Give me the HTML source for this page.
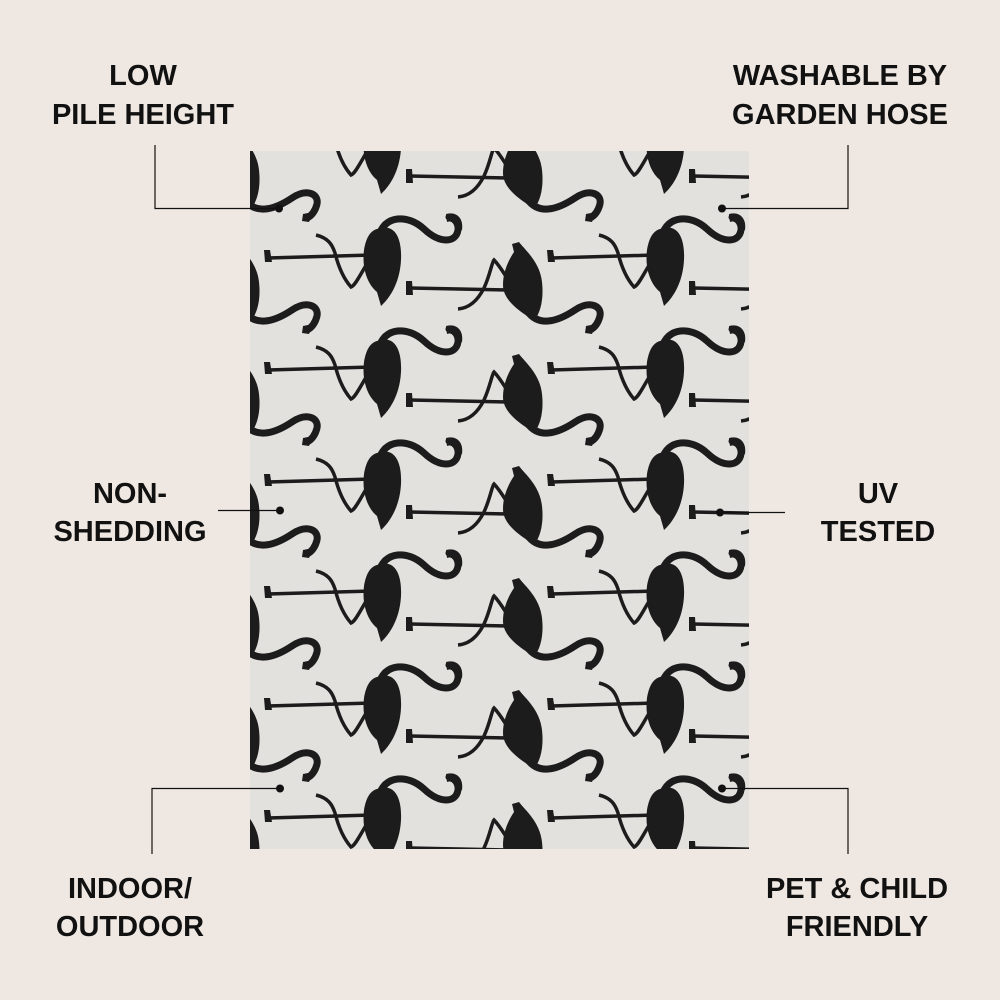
<!DOCTYPE html>
<html><head><meta charset="utf-8"><style>
html,body{margin:0;padding:0;background:#efe7e2;}
svg{display:block}
text{font-family:"Liberation Sans",Arial,sans-serif;font-weight:bold;font-size:29px;fill:#111;text-anchor:middle}
</style></head><body>
<svg width="1000" height="1000" viewBox="0 0 1000 1000" xmlns="http://www.w3.org/2000/svg">
<defs>
<clipPath id="rug"><rect x="250" y="151" width="499" height="698"/></clipPath>
<g id="A" fill="#1c1c1c" stroke="#1c1c1c">
  <path stroke="none" d="M377,229 C396,222 402,240 401,260 C400,280 392,296 381,306 L377,292 C366,283 362,266 364,250 C366,238 370,231 377,229 Z"/>
  <path fill="none" stroke-width="7" stroke-linecap="round" d="M379,236 C384,215 408,214 424,229 C440,244 456,243 458,230 C460,220 455,216 449,217"/>
  <path stroke="none" d="M446,214 C456,212 464,218 462,230 L455,232 C455,224 452,220 447,222 Z"/>
  <path fill="none" stroke-width="3.5" d="M268,258 L372,255"/>
  <path fill="none" stroke-width="3.5" d="M368,262 C360,275 355,286 351,287 C343,278 338,265 335,253 C332,244 328,238 316,235"/>
  <path stroke="none" d="M264,250 L270,250 L272,262 L265,262 Z"/>
</g>
<g id="B" fill="#1c1c1c" stroke="#1c1c1c">
  <path stroke="none" d="M519,242 C525,250 540,262 542,282 C544,300 540,312 536,318 L527,316 C515,308 503,298 503,285 C503,270 510,258 514,252 L512,244 Z"/>
  <path fill="none" stroke-width="7" stroke-linecap="round" d="M528,312 C540,328 560,320 575,310 C590,300 602,306 600,316 C598,324 594,328 590,330"/>
  <path stroke="none" d="M586,326 L596,324 L592,334 L585,333 Z"/>
  <path fill="none" stroke-width="3.5" d="M410,288 L508,290"/>
  <path fill="none" stroke-width="3.5" d="M458,309 C470,308 478,300 484,288 C490,275 492,262 494,260 C500,266 505,275 512,286"/>
  <path stroke="none" d="M406,281 L412,281 L413,295 L406,295 Z"/>
</g>
</defs>
<rect x="250" y="151" width="499" height="698" fill="#e3e1de"/>
<g clip-path="url(#rug)">
    <use href="#A" transform="translate(-283,-336)"/><use href="#A" transform="translate(-283,-224)"/><use href="#A" transform="translate(-283,-112)"/><use href="#A" transform="translate(-283,0)"/><use href="#A" transform="translate(-283,112)"/><use href="#A" transform="translate(-283,224)"/><use href="#A" transform="translate(-283,336)"/><use href="#A" transform="translate(-283,448)"/><use href="#A" transform="translate(-283,560)"/>
    <use href="#A" transform="translate(0,-336)"/><use href="#A" transform="translate(0,-224)"/><use href="#A" transform="translate(0,-112)"/><use href="#A" transform="translate(0,0)"/><use href="#A" transform="translate(0,112)"/><use href="#A" transform="translate(0,224)"/><use href="#A" transform="translate(0,336)"/><use href="#A" transform="translate(0,448)"/><use href="#A" transform="translate(0,560)"/>
    <use href="#A" transform="translate(283,-336)"/><use href="#A" transform="translate(283,-224)"/><use href="#A" transform="translate(283,-112)"/><use href="#A" transform="translate(283,0)"/><use href="#A" transform="translate(283,112)"/><use href="#A" transform="translate(283,224)"/><use href="#A" transform="translate(283,336)"/><use href="#A" transform="translate(283,448)"/><use href="#A" transform="translate(283,560)"/>
    <use href="#B" transform="translate(-283,-336)"/><use href="#B" transform="translate(-283,-224)"/><use href="#B" transform="translate(-283,-112)"/><use href="#B" transform="translate(-283,0)"/><use href="#B" transform="translate(-283,112)"/><use href="#B" transform="translate(-283,224)"/><use href="#B" transform="translate(-283,336)"/><use href="#B" transform="translate(-283,448)"/><use href="#B" transform="translate(-283,560)"/>
    <use href="#B" transform="translate(0,-336)"/><use href="#B" transform="translate(0,-224)"/><use href="#B" transform="translate(0,-112)"/><use href="#B" transform="translate(0,0)"/><use href="#B" transform="translate(0,112)"/><use href="#B" transform="translate(0,224)"/><use href="#B" transform="translate(0,336)"/><use href="#B" transform="translate(0,448)"/><use href="#B" transform="translate(0,560)"/>
    <use href="#B" transform="translate(283,-336)"/><use href="#B" transform="translate(283,-224)"/><use href="#B" transform="translate(283,-112)"/><use href="#B" transform="translate(283,0)"/><use href="#B" transform="translate(283,112)"/><use href="#B" transform="translate(283,224)"/><use href="#B" transform="translate(283,336)"/><use href="#B" transform="translate(283,448)"/><use href="#B" transform="translate(283,560)"/>
</g>
<g stroke="#111" stroke-width="1.2" fill="none">
  <path d="M155,145 V208.5 H279"/>
  <path d="M848,145 V208.5 H722"/>
  <path d="M218,510.5 H280"/>
  <path d="M785,512.5 H720"/>
  <path d="M152,854 V788.5 H280"/>
  <path d="M848,854 V788.5 H722"/>
</g>
<g fill="#111">
  <circle cx="279" cy="208.5" r="4"/><circle cx="722" cy="208.5" r="4"/>
  <circle cx="280" cy="510.5" r="4"/><circle cx="720" cy="512.5" r="4"/>
  <circle cx="280" cy="788.5" r="4"/><circle cx="722" cy="788.5" r="4"/>
</g>
<text x="143" y="85">LOW</text><text x="143" y="124">PILE HEIGHT</text>
<text x="840" y="85">WASHABLE BY</text><text x="840" y="124">GARDEN HOSE</text>
<text x="130" y="503">NON-</text><text x="130" y="541">SHEDDING</text>
<text x="878" y="503">UV</text><text x="878" y="541">TESTED</text>
<text x="130" y="898">INDOOR/</text><text x="130" y="936">OUTDOOR</text>
<text x="857" y="898">PET &amp; CHILD</text><text x="857" y="936">FRIENDLY</text>
</svg>
</body></html>
